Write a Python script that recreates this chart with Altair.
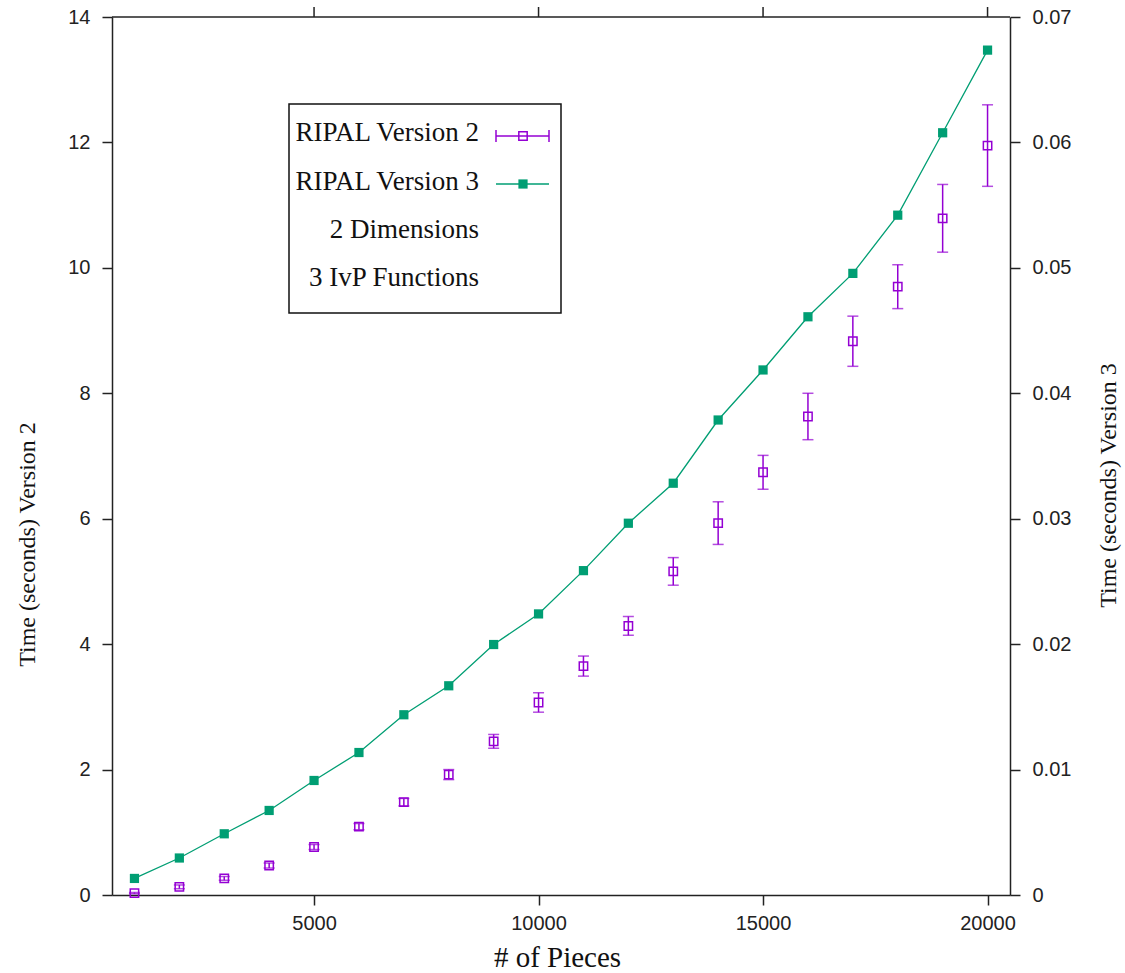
import altair as alt
import pandas as pd

# ---- data ----
pieces = [1000, 2000, 3000, 4000, 5000, 6000, 7000, 8000, 9000, 10000,
          11000, 12000, 13000, 14000, 15000, 16000, 17000, 18000, 19000, 20000]
v2_time = [0.03, 0.13, 0.265, 0.47, 0.765, 1.09, 1.48, 1.92, 2.45, 3.07,
           3.65, 4.29, 5.16, 5.93, 6.74, 7.63, 8.83, 9.70, 10.79, 11.95]
v2_err = [0.01, 0.03, 0.03, 0.04, 0.04, 0.05, 0.06, 0.08, 0.11, 0.155,
          0.16, 0.15, 0.22, 0.34, 0.27, 0.37, 0.40, 0.35, 0.54, 0.65]
v3_time = [0.00132, 0.00295, 0.00488, 0.00674, 0.00913, 0.01136, 0.01437, 0.01668,
           0.01997, 0.02241, 0.02586, 0.02964, 0.03283, 0.03787, 0.04186, 0.0461,
           0.04956, 0.0542, 0.06077, 0.06736]

x_ticks = [5000, 10000, 15000, 20000]
y2_ticks = [0, 2, 4, 6, 8, 10, 12, 14]
y3_ticks = [0, 0.01, 0.02, 0.03, 0.04, 0.05, 0.06, 0.07]

legend_labels = ["RIPAL Version 2", "RIPAL Version 3", "2 Dimensions", "3 IvP Functions"]

PURPLE = "#9400D3"
GREEN = "#009E73"
AX = "#222222"

df2 = pd.DataFrame({
    "pieces": pieces,
    "t": v2_time,
    "lo": [v - e for v, e in zip(v2_time, v2_err)],
    "hi": [v + e for v, e in zip(v2_time, v2_err)],
})
df3 = pd.DataFrame({"pieces": pieces, "t": v3_time})
dft = pd.DataFrame({"pieces": x_ticks})

xscale = alt.Scale(domain=[500, 20500], nice=False, zero=False)
y2scale = alt.Scale(domain=[0, 14], nice=False)
y3scale = alt.Scale(domain=[0, 0.07], nice=False)

axis_common = dict(
    grid=False, domainColor=AX, domainWidth=1.5, tickColor=AX, tickWidth=1.5,
    tickSize=10, labelFont="Liberation Sans", labelFontSize=20, labelColor=AX,
    titleFont="Liberation Serif", titleFontWeight="normal", titleColor="#111111",
)

x_bottom = alt.Axis(values=x_ticks, format="d", title="# of Pieces", labelPadding=8,
                    titleFontSize=29, titleX=445, titleY=62, titleBaseline="middle",
                    titleAlign="center", **axis_common)
y_left = alt.Axis(values=y2_ticks, format="d", title="Time (seconds) Version 2",
                  labelPadding=12, titleFontSize=24, titleAngle=270, titleX=-85,
                  titleY=527, titleBaseline="middle", titleAlign="center", **axis_common)
y_right = alt.Axis(values=y3_ticks, format="~g", orient="right",
                   title="Time (seconds) Version 3", labelPadding=12, titleFontSize=24,
                   titleAngle=270, titleX=98, titleY=468, titleBaseline="middle",
                   titleAlign="center", **axis_common)

X = alt.X("pieces:Q", scale=xscale, axis=x_bottom)

base2 = alt.Chart(df2)
err = base2.mark_rule(color=PURPLE, strokeWidth=1.5).encode(
    x=X, y=alt.Y("lo:Q", scale=y2scale, axis=y_left), y2="hi:Q",
)
cap_lo = base2.mark_tick(color=PURPLE, orient="horizontal", size=11, thickness=1.5).encode(
    x=X, y=alt.Y("lo:Q", scale=y2scale, axis=y_left),
)
cap_hi = base2.mark_tick(color=PURPLE, orient="horizontal", size=11, thickness=1.5).encode(
    x=X, y=alt.Y("hi:Q", scale=y2scale, axis=y_left),
)
sq2 = base2.mark_point(shape="square", filled=False, size=70, strokeWidth=1.5,
                       color=PURPLE, opacity=1).encode(
    x=X, y=alt.Y("t:Q", scale=y2scale, axis=y_left),
)
# top border ticks (gnuplot mirrors the x ticks on the top border)
top_ticks = alt.Chart(dft).mark_rule(color=AX, strokeWidth=1.5, clip=False).encode(
    x=X, y=alt.value(-10), y2=alt.value(0)
)
top_border = alt.Chart(alt.Data(values=[{"k": 1}])).mark_rule(
    color=AX, strokeWidth=1.5, clip=False).encode(
    x=alt.value(0), x2=alt.value(898), y=alt.value(0)
)
purple = alt.layer(err, cap_lo, cap_hi, sq2, top_ticks, top_border)

base3 = alt.Chart(df3)
line3 = base3.mark_line(color=GREEN, strokeWidth=1.3).encode(
    x=X, y=alt.Y("t:Q", scale=y3scale, axis=y_right),
)
sq3 = base3.mark_square(color=GREEN, size=85, opacity=1).encode(
    x=X, y=alt.Y("t:Q", scale=y3scale, axis=y_right),
)
green = alt.layer(line3, sq3)

dual = alt.layer(purple, green).resolve_scale(y="independent")

one = alt.Data(values=[{"k": 1}])

legend_box = alt.Chart(one).mark_rect(fill="white", stroke="#111111", strokeWidth=1.5).encode(
    x=alt.value(177), x2=alt.value(449), y=alt.value(87), y2=alt.value(296)
)
legend_y = [116, 165, 213, 261]
legend_texts = [
    alt.Chart(one).mark_text(align="right", baseline="middle", font="Liberation Serif",
                             fontSize=27, color="#111111").encode(
        x=alt.value(367), y=alt.value(yy), text=alt.value(lab))
    for lab, yy in zip(legend_labels, legend_y)
]
leg_p_line = alt.Chart(one).mark_rule(color=PURPLE, strokeWidth=1.5).encode(
    x=alt.value(384), x2=alt.value(437), y=alt.value(119))
leg_p_cap1 = alt.Chart(one).mark_rule(color=PURPLE, strokeWidth=1.5).encode(
    x=alt.value(384), y=alt.value(113), y2=alt.value(125))
leg_p_cap2 = alt.Chart(one).mark_rule(color=PURPLE, strokeWidth=1.5).encode(
    x=alt.value(437), y=alt.value(113), y2=alt.value(125))
leg_p_sq = alt.Chart(one).mark_point(shape="square", filled=False, size=70, strokeWidth=1.5,
                                     color=PURPLE, opacity=1).encode(
    x=alt.value(411), y=alt.value(119))
leg_g_line = alt.Chart(one).mark_rule(color=GREEN, strokeWidth=1.3).encode(
    x=alt.value(384), x2=alt.value(437), y=alt.value(167))
leg_g_sq = alt.Chart(one).mark_square(color=GREEN, size=85, opacity=1).encode(
    x=alt.value(411), y=alt.value(167))

legend = alt.layer(legend_box, *legend_texts, leg_p_line, leg_p_cap1, leg_p_cap2,
                   leg_p_sq, leg_g_line, leg_g_sq)

chart = alt.layer(dual, legend).properties(
    width=898, height=878,
    padding={"left": 112, "top": 17, "right": 115, "bottom": 78},
    autosize=alt.AutoSizeParams(type="none"),
    background="white",
).configure_view(stroke=None)

chart.save("out.html", embed_options={"renderer": "svg", "actions": False})
